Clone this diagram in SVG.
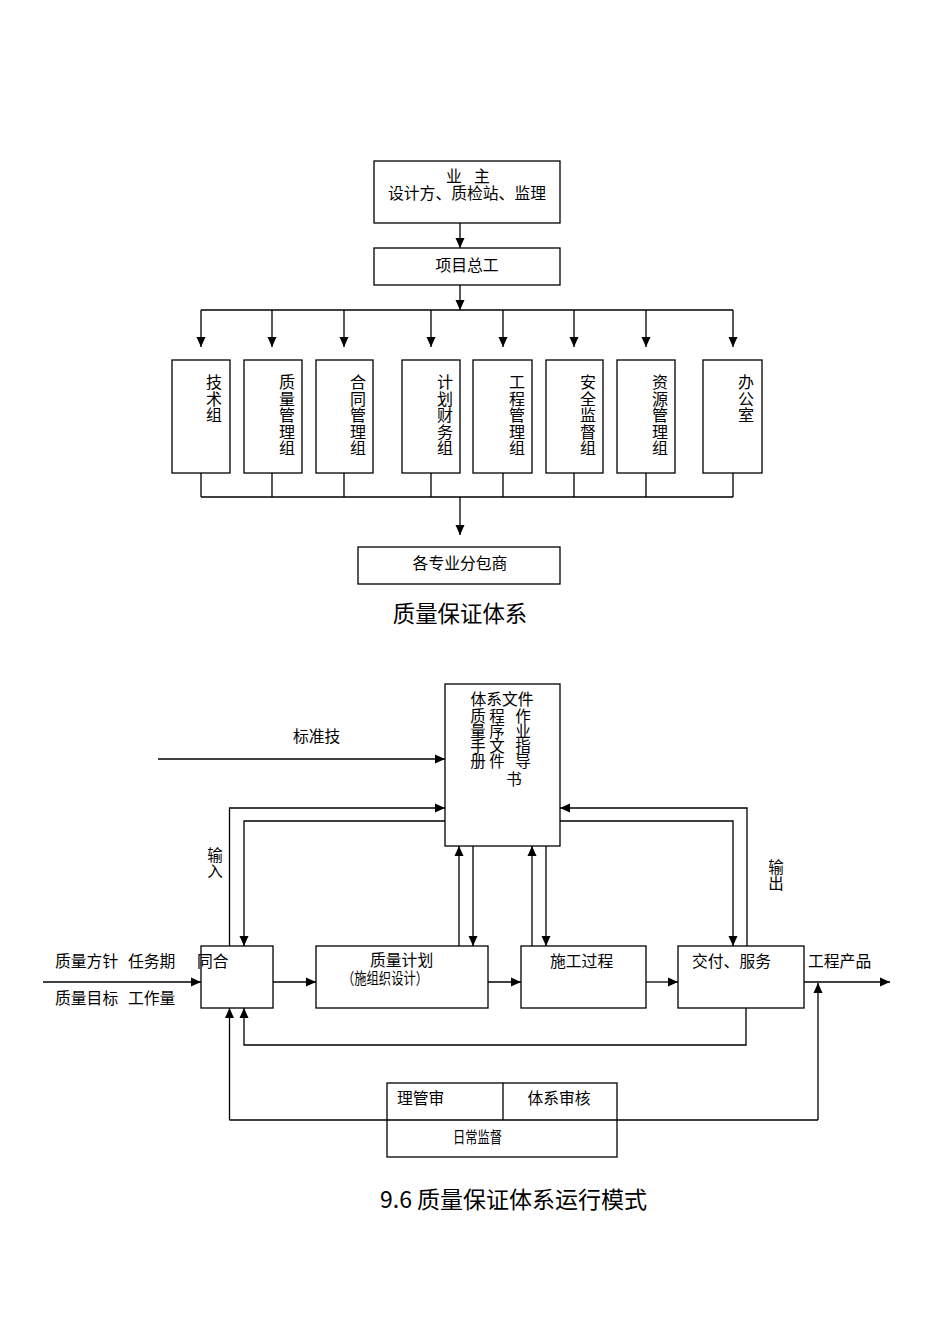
<svg xmlns="http://www.w3.org/2000/svg" width="950" height="1344" viewBox="0 0 950 1344">
<defs>
<style>
.bx{fill:#fff;stroke:#000;stroke-width:1.3}
.ln{fill:none;stroke:#000;stroke-width:1.3}
.ar{fill:none;stroke:#000;stroke-width:1.3;marker-end:url(#ah)}
text{font-family:"Noto Sans CJK SC","Liberation Sans",sans-serif;font-size:15.8px;fill:#000}
.c{text-anchor:middle}
.v{font-size:16px;text-anchor:middle}
.vd{font-size:15.5px;text-anchor:middle}
.t1{font-size:22.4px}
.cap{font-size:23px}
</style>
<marker id="ah" viewBox="0 0 10 10" refX="10" refY="5" markerWidth="10" markerHeight="10" markerUnits="userSpaceOnUse" orient="auto">
<path d="M0,0.5 L10,5 L0,9.5 z" fill="#000"/>
</marker>
</defs>
<rect width="950" height="1344" fill="#fff"/>

<g id="connectors">
<path class="ar" d="M460,223 V248"/>
<path class="ar" d="M460,285 V310"/>
<path class="ln" d="M201,310 H733"/>
<path class="ar" d="M201,310 V347"/>
<path class="ar" d="M272,310 V347"/>
<path class="ar" d="M344,310 V347"/>
<path class="ar" d="M431,310 V347"/>
<path class="ar" d="M503,310 V347"/>
<path class="ar" d="M574,310 V347"/>
<path class="ar" d="M646,310 V347"/>
<path class="ar" d="M733,310 V347"/>
<path class="ln" d="M201,473 V497 M272,473 V497 M344,473 V497 M431,473 V497 M503,473 V497 M574,473 V497 M646,473 V497 M733,473 V497 M201,497 H733"/>
<path class="ar" d="M460,497 V535"/>

<path class="ar" d="M158,759 H445"/>
<path class="ar" d="M229.5,946 V808 H445"/>
<path class="ar" d="M445,821 H244 V946"/>
<path class="ar" d="M459,946 V846"/>
<path class="ar" d="M473,846 V946"/>
<path class="ar" d="M532,946 V846"/>
<path class="ar" d="M546,846 V946"/>
<path class="ar" d="M747,946 V808 H560"/>
<path class="ar" d="M560,821 H733 V946"/>
<path class="ar" d="M43,982 H201"/>
<path class="ar" d="M273,982 H316"/>
<path class="ar" d="M488,982 H521"/>
<path class="ar" d="M646,982 H678"/>
<path class="ar" d="M804,982 H890"/>
<path class="ar" d="M746,1008 V1045 H244 V1008"/>
<path class="ln" d="M229.5,1120 H818"/>
<path class="ar" d="M229.5,1120 V1008"/>
<path class="ar" d="M818,1120 V983"/>
</g>

<g id="n-owner">
<rect class="bx" x="374" y="161" width="186" height="62"/>
<text y="182"><tspan x="446">业</tspan><tspan x="474">主</tspan></text>
<text class="c" x="467" y="199">设计方、质检站、监理</text>
</g>
<g id="n-pm">
<rect class="bx" x="374" y="248" width="186" height="37"/>
<text class="c" x="467" y="271">项目总工</text>
</g>

<g id="n-tech">
<rect class="bx" x="172" y="360" width="58" height="113"/>
<text class="v" x="214" y="388">技</text><text class="v" x="214" y="404.5">术</text><text class="v" x="214" y="421">组</text>
</g>
<g id="n-quality">
<rect class="bx" x="244" y="360" width="58" height="113"/>
<text class="v" x="287" y="388">质</text><text class="v" x="287" y="404.5">量</text><text class="v" x="287" y="421">管</text><text class="v" x="287" y="437.5">理</text><text class="v" x="287" y="454">组</text>
</g>
<g id="n-contract">
<rect class="bx" x="316" y="360" width="57" height="113"/>
<text class="v" x="358" y="388">合</text><text class="v" x="358" y="404.5">同</text><text class="v" x="358" y="421">管</text><text class="v" x="358" y="437.5">理</text><text class="v" x="358" y="454">组</text>
</g>
<g id="n-finance">
<rect class="bx" x="402" y="360" width="58" height="113"/>
<text class="v" x="445" y="388">计</text><text class="v" x="445" y="404.5">划</text><text class="v" x="445" y="421">财</text><text class="v" x="445" y="437.5">务</text><text class="v" x="445" y="454">组</text>
</g>
<g id="n-engineering">
<rect class="bx" x="473" y="360" width="59" height="113"/>
<text class="v" x="517" y="388">工</text><text class="v" x="517" y="404.5">程</text><text class="v" x="517" y="421">管</text><text class="v" x="517" y="437.5">理</text><text class="v" x="517" y="454">组</text>
</g>
<g id="n-safety">
<rect class="bx" x="546" y="360" width="57" height="113"/>
<text class="v" x="588" y="388">安</text><text class="v" x="588" y="404.5">全</text><text class="v" x="588" y="421">监</text><text class="v" x="588" y="437.5">督</text><text class="v" x="588" y="454">组</text>
</g>
<g id="n-resource">
<rect class="bx" x="617" y="360" width="58" height="113"/>
<text class="v" x="660" y="388">资</text><text class="v" x="660" y="404.5">源</text><text class="v" x="660" y="421">管</text><text class="v" x="660" y="437.5">理</text><text class="v" x="660" y="454">组</text>
</g>
<g id="n-office">
<rect class="bx" x="703" y="360" width="59" height="113"/>
<text class="v" x="746" y="388">办</text><text class="v" x="746" y="404.5">公</text><text class="v" x="746" y="421">室</text>
</g>
<g id="n-sub">
<rect class="bx" x="358" y="547" width="202" height="37"/>
<text class="c" x="460" y="569">各专业分包商</text>
</g>
<text class="c t1" x="460" y="622">质量保证体系</text>

<g id="n-docs">
<rect class="bx" x="445" y="684" width="115" height="162"/>
<text class="c" x="502" y="705">体系文件</text>
<text class="vd" x="478" y="722">质</text><text class="vd" x="478" y="737">量</text><text class="vd" x="478" y="752">手</text><text class="vd" x="478" y="767">册</text>
<text class="vd" x="497" y="722">程</text><text class="vd" x="497" y="737">序</text><text class="vd" x="497" y="752">文</text><text class="vd" x="497" y="767">件</text>
<text class="vd" x="523" y="722">作</text><text class="vd" x="523" y="737">业</text><text class="vd" x="523" y="752">指</text><text class="vd" x="523" y="767">导</text><text class="vd" x="514" y="785">书</text>
</g>
<text x="293" y="742" font-size="16">标准技</text>
<text class="vd" x="215" y="861">输</text><text class="vd" x="215" y="877">入</text>
<text class="vd" x="776" y="873">输</text><text class="vd" x="776" y="889">出</text>

<g id="n-contract2">
<rect class="bx" x="201" y="946" width="72" height="62"/>
<text x="197" y="967">同合</text>
</g>
<text y="967" font-size="15.5"><tspan x="55">质量方针</tspan><tspan x="128">任务期</tspan></text>
<text y="1004" font-size="15.5"><tspan x="55">质量目标</tspan><tspan x="128">工作量</tspan></text>
<g id="n-plan">
<rect class="bx" x="316" y="946" width="172" height="62"/>
<text x="370" y="966">质量计划</text>
<text x="342" y="984" textLength="86" lengthAdjust="spacingAndGlyphs">（施组织设计）</text>
</g>
<g id="n-construct">
<rect class="bx" x="521" y="946" width="125" height="62"/>
<text x="550" y="967">施工过程</text>
</g>
<g id="n-deliver">
<rect class="bx" x="678" y="946" width="126" height="62"/>
<text x="692" y="967">交付、服务</text>
</g>
<text x="808" y="967" font-size="16.3">工程产品</text>

<g id="n-review">
<rect class="bx" x="387" y="1083" width="230" height="74"/>
<path class="ln" d="M503,1083 V1120 M387,1120 H617"/>
<text x="397" y="1104">理管审</text>
<text class="c" x="559" y="1104">体系审核</text>
<text x="453" y="1143" textLength="49" lengthAdjust="spacingAndGlyphs">日常监督</text>
</g>
<text class="cap" x="380" y="1208">9.6 质量保证体系运行模式</text>
</svg>
